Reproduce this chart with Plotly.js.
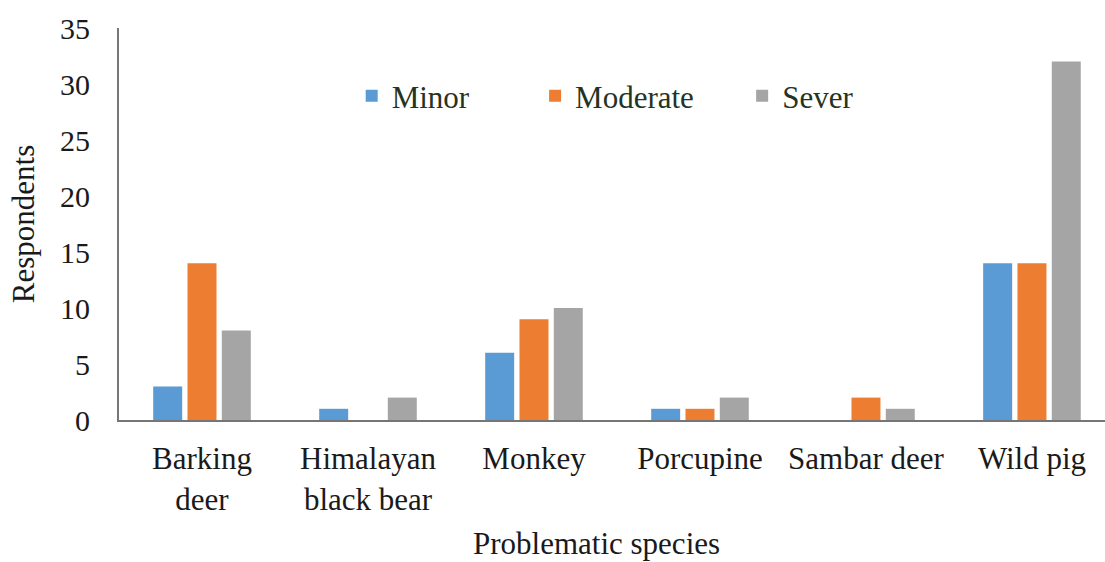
<!DOCTYPE html>
<html>
<head>
<meta charset="utf-8">
<script src="https://cdn.plot.ly/plotly-3.0.1.min.js"></script>
<style>html,body{margin:0;padding:0;background:#fff;}#chart{width:1105px;height:562px;}</style>
</head>
<body>
<div id="chart"></div>
<script>
const categories = ["Barking<br>deer", "Himalayan<br>black bear", "Monkey", "Porcupine", "Sambar deer", "Wild pig"];
const minor = [3, 1, 6, 1, 0, 14];
const moderate = [14, 0, 9, 1, 2, 14];
const sever = [8, 2, 10, 2, 1, 32];
const seriesNames = ["Minor", "Moderate", "Sever"];
const yTicks = [0, 5, 10, 15, 20, 25, 30, 35];

const colors = ["#5B9BD5", "#ED7D31", "#A5A5A5"];
const serif = "'Liberation Serif', 'Times New Roman', serif";
const legendNames = ["legend", "legend2", "legend3"];
const legendX = [0.236, 0.422, 0.632];

const data = [minor, moderate, sever].map((vals, i) => ({
  type: "bar",
  x: categories,
  y: vals,
  name: seriesNames[i],
  marker: {color: colors[i]},
  legend: legendNames[i],
  hoverinfo: "x+y+name"
}));

const legendCommon = (x) => ({
  x: x, xanchor: "left", y: 0.826, yanchor: "middle",
  orientation: "h", bgcolor: "rgba(0,0,0,0)",
  font: {family: serif, size: 31, color: "#243322"}
});

const layout = {
  width: 1105, height: 562,
  margin: {l: 119, r: 0, t: 28, b: 142},
  paper_bgcolor: "#fff", plot_bgcolor: "#fff",
  barmode: "group", bargap: 0.38, bargroupgap: 0.155,
  showlegend: true,
  legend: legendCommon(legendX[0]),
  legend2: legendCommon(legendX[1]),
  legend3: legendCommon(legendX[2]),
  xaxis: {
    range: [-0.5, 5.44],
    showline: true, linecolor: "#767676", linewidth: 2,
    showgrid: false, zeroline: false, ticks: "",
    tickfont: {family: serif, size: 31, color: "#1a1a1a"},
    ticklabelstandoff: 10
  },
  yaxis: {
    range: [0, 35],
    tickvals: yTicks,
    showline: true, linecolor: "#767676", linewidth: 2,
    showgrid: false, zeroline: false, ticks: "",
    tickfont: {family: serif, size: 30, color: "#1a1a1a"},
    ticklabelstandoff: 21,
    title: {text: "Respondents", font: {family: serif, size: 31, color: "#1a1a1a"}, standoff: 16}
  },
  annotations: [{
    text: "Problematic species", xref: "paper", yref: "paper",
    x: 0.484, y: 0, yanchor: "top", yshift: -104, showarrow: false,
    font: {family: serif, size: 31, color: "#1a1a1a"}
  }]
};

Plotly.newPlot("chart", data, layout, {displayModeBar: false});
</script>
</body>
</html>
